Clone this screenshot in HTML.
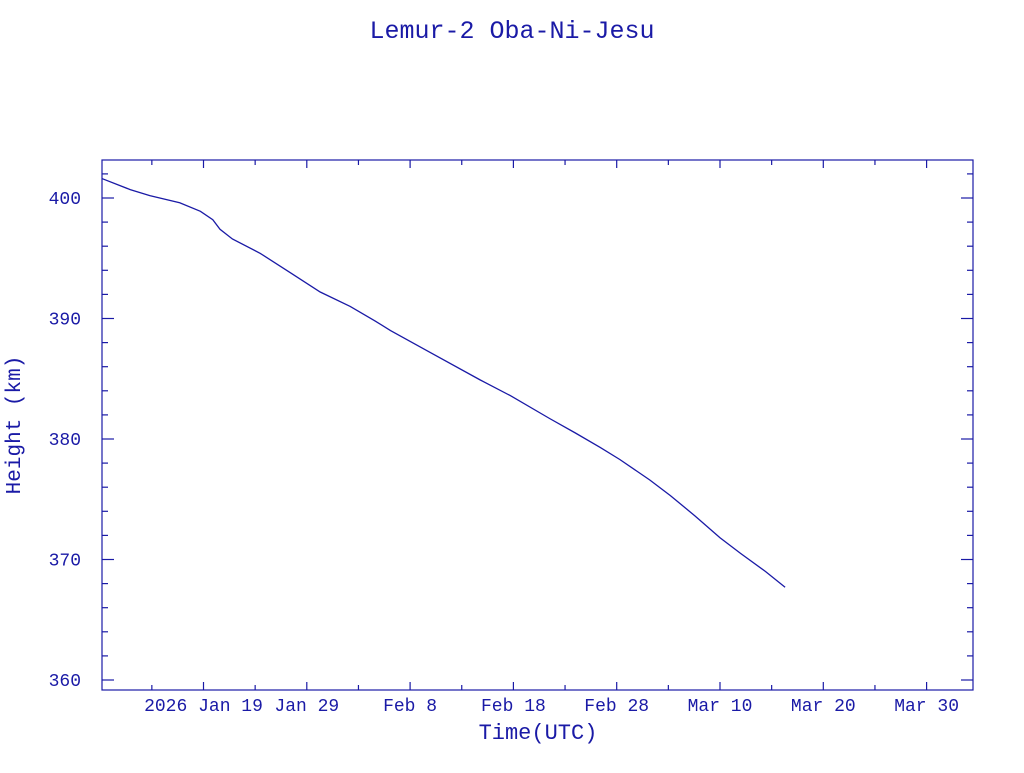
<!DOCTYPE html>
<html><head><meta charset="utf-8"><style>
body{margin:0;background:#fff;}
svg text{font-family:"Liberation Mono",monospace;fill:#1a1aa6;}
</style></head><body>
<svg width="1024" height="768">
<text x="512" y="38" text-anchor="middle" font-size="25">Lemur-2 Oba-Ni-Jesu</text>
<g id="axes"></g>
<path id="line" fill="none" stroke="#1a1aa6" stroke-width="1.3"/>
<text x="20" y="425" text-anchor="middle" font-size="21" transform="rotate(-90 20 425)">Height (km)</text>
<text x="538" y="739" text-anchor="middle" font-size="22">Time(UTC)</text>
</svg>
<script>
const days=[0.2,2.9,4.8,7.7,9.7,10.9,11.6,12.8,15.5,18.4,21.3,24.2,26.6,28.1,31.9,36.8,39.7,43.5,46.0,48.4,50.3,53.2,55.2,57.6,60.0,62.0,64.4,66.3];
const heights=[401.6,400.7,400.2,399.6,398.9,398.2,397.4,396.6,395.4,393.8,392.2,391.0,389.8,389.0,387.2,384.9,383.6,381.7,380.5,379.3,378.3,376.6,375.3,373.6,371.8,370.5,369.0,367.7];
const xTickDays=[10,20,30,40,50,60,70,80];
const xTickLabels=["2026 Jan 19","Jan 29","Feb  8","Feb 18","Feb 28","Mar 10","Mar 20","Mar 30"];
const yTicks=[360,370,380,390,400];
const L=102,R=973,T=160,B=690;
const X=d=>100.2+d*10.33;
const Y=h=>198+(400-h)*12.05;
const ns="http://www.w3.org/2000/svg";
const g=document.getElementById('axes');
function mk(tag,attrs){const e=document.createElementNS(ns,tag);for(const k in attrs)e.setAttribute(k,attrs[k]);g.appendChild(e);return e;}
const fr=mk('rect',{x:L,y:T,width:R-L,height:B-T,fill:'none',stroke:'#1a1aa6','stroke-width':1.2});


const st={stroke:'#1a1aa6','stroke-width':1.2};
for(let d=5;d<85;d+=5){const x=X(d);const major=d%10===0;const len=major?8:5;
 const t1=mk('line',Object.assign({x1:x,x2:x,y1:B,y2:B-len},st));
 
 
 const t2=mk('line',Object.assign({x1:x,x2:x,y1:T,y2:T+len},st));
 
 }
xTickDays.forEach((d,i)=>{const t=mk('text',{x:X(d),y:711,'text-anchor':'middle','font-size':18,'xml:space':'preserve'});t.textContent=xTickLabels[i];
 
 });
for(let h=360;h<=403;h+=2){const y=Y(h);const major=h%10===0;const len=major?12:6;
 const t1=mk('line',Object.assign({x1:L,x2:L+len,y1:y,y2:y},st));
 
 
 const t2=mk('line',Object.assign({x1:R,x2:R-len,y1:y,y2:y},st));
 
 }
yTicks.forEach(h=>{const t=mk('text',{x:81,y:Y(h)+6,'text-anchor':'end','font-size':18});t.textContent=h;
 
 });
document.getElementById('line').setAttribute('d',days.map((d,i)=>(i?'L':'M')+X(d).toFixed(1)+' '+Y(heights[i]).toFixed(1)).join(' '));
</script>
</body></html>
